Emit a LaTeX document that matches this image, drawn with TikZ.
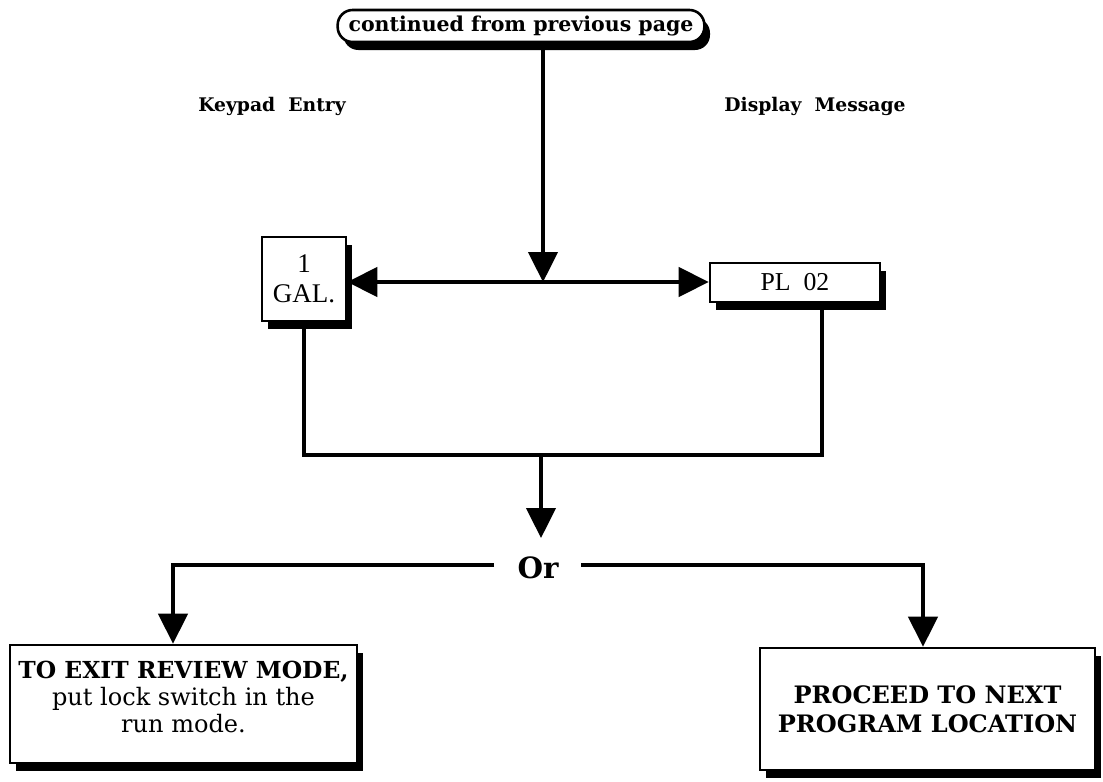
\documentclass[tikz,border=0pt]{standalone}
\usepackage{fontspec}
\setmainfont{DejaVu Serif}
\newfontfamily\timesf{Liberation Serif}
\usetikzlibrary{arrows.meta,shadows}
\begin{document}
\begin{tikzpicture}[x=0.03cm,y=-0.03cm,
  line width=2.7pt,
  tip/.style={-{Triangle[length=0.9cm,width=0.88cm]}},
  box/.style={draw,fill=white,line width=2.2pt,inner sep=0pt,
    drop shadow={shadow xshift=0.17cm,shadow yshift=-0.24cm,fill=black,opacity=1}},
  lbl/.style={font=\fontsize{16}{19}\selectfont\bfseries}]
\useasboundingbox (0,0) rectangle (1103,781);
\node[box,rounded corners=0.45cm,minimum width=11.0cm,minimum height=0.96cm,
  font=\fontsize{17.5}{20}\selectfont\bfseries] (top) at (521,26) {continued from previous page};
\node[lbl] (kp) at (272,106) {Keypad\ \ Entry};
\node[lbl] (dm) at (815,106) {Display\ \ Message};
\node[box,minimum width=2.52cm,minimum height=2.52cm,align=center,
  font=\timesf\fontsize{23}{26}\selectfont] (gal) at (304,279) {1\\GAL.};
\node[box,minimum width=5.1cm,minimum height=1.17cm,
  font=\timesf\fontsize{22}{25}\selectfont] (pl) at (795,282.5) {PL\ \ 02};
\coordinate (mid) at (543,282);
\draw[tip] (top.south -| mid) -- (mid);
\draw[tip] (mid) -- (gal.east |- mid);
\draw[tip] (mid) -- (pl.west |- mid);
\coordinate (join) at (541,455);
\draw (gal.south) -- (gal.south |- join) -- (join);
\coordinate (plb) at (822,455);
\draw (join) -- (plb) -- (pl.south -| plb);
\node[font=\fontsize{25}{28}\selectfont\bfseries,inner sep=0pt] (or) at (538,568) {Or};
\coordinate (orarr) at (541,538);
\draw[tip] (join) -- (orarr);
\node[box,minimum width=10.41cm,minimum height=3.54cm] (exit) at (183.5,704) {};
\node[align=center,font=\fontsize{20}{23}\selectfont] (exittext) at (183.5,697)
  {{\bfseries TO EXIT REVIEW MODE,}\\
   {\fontsize{20.5}{23}\selectfont put lock switch in the}\\
   {\fontsize{20.5}{23}\selectfont run mode.}};
\node[box,minimum width=10.05cm,minimum height=3.66cm,align=center,
  font=\fontsize{20.5}{25}\selectfont\bfseries] (next) at (927.5,709)
  {PROCEED TO NEXT\\PROGRAM LOCATION};
\coordinate (ll) at (494,565);
\coordinate (rl) at (581,565);
\coordinate (lc) at (173,565);
\coordinate (rc) at (923,565);
\draw[tip] (ll) -- (lc) -- (lc |- exit.north);
\draw[tip] (rl) -- (rc) -- (rc |- next.north);
\end{tikzpicture}
\end{document}
